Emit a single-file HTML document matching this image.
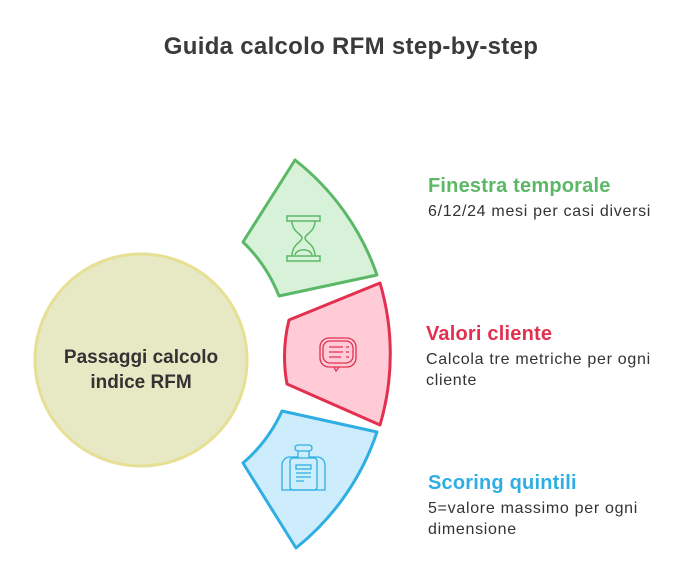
<!DOCTYPE html>
<html><head><meta charset="utf-8"><style>
body{margin:0;background:#fff;width:699px;height:582px;overflow:hidden}
svg text{font-family:"Liberation Sans",sans-serif}
.d{font-size:16px;letter-spacing:0.7px;fill:#333}
.h{font-size:20px;font-weight:bold;letter-spacing:0.2px}
</style></head><body>
<svg width="699" height="582" viewBox="0 0 699 582" xmlns="http://www.w3.org/2000/svg">
<text x="351" y="54" text-anchor="middle" font-size="24" font-weight="bold" fill="#3a3a3a" letter-spacing="0.3">Guida calcolo RFM step-by-step</text>
<circle cx="141" cy="360" r="106" fill="#e6e9c3" stroke="#e6df94" stroke-width="3"/>
<text x="141" y="363" text-anchor="middle" font-size="19" font-weight="bold" fill="#333">Passaggi calcolo</text>
<text x="141" y="388" text-anchor="middle" font-size="19" font-weight="bold" fill="#333">indice RFM</text>
<path d="M295,160 A250,250 0 0 1 377,275 L279,296 A152,152 0 0 0 243,242 Z" fill="#d7f2d9" stroke="#5bb866" stroke-width="3" stroke-linejoin="round"/>
<path d="M380,283 A250,250 0 0 1 380,425 L287,384 A153,153 0 0 1 289,320 Z" fill="#fecbd6" stroke="#e3304f" stroke-width="3" stroke-linejoin="round"/>
<path d="M377,432 A250,250 0 0 1 296,548 L243,463 A150,150 0 0 0 282,411 Z" fill="#cdedfd" stroke="#2eaee3" stroke-width="3" stroke-linejoin="round"/>
<g stroke="#5bb866" stroke-width="1.5" fill="none">
<rect x="287" y="216" width="33" height="5"/><rect x="287" y="256" width="33" height="5"/>
<path d="M292,221 C292,232 302,234 302,238 C302,242 292,244 292,256 M315,221 C315,232 305,234 305,238 C305,242 315,244 315,256"/>
<path d="M295,255 C297,248 310,248 312,255"/>
</g>
<g stroke="#e3304f" stroke-width="1.3" fill="none">
<rect x="320" y="338" width="36" height="29" rx="9"/><rect x="323" y="341" width="30" height="22" rx="7"/>
<path d="M329,347h14M329,352h14M329,357h12M346,347h3M346,352h3M346,357h3"/>
<path d="M334,367l2,4l3,-4"/>
</g>
<g stroke="#2eaee3" stroke-width="1.3" fill="none">
<rect x="295" y="445" width="17" height="6" rx="3"/>
<path d="M298,451v6h-8a8,8 0 0 0 -8,8v25h43v-25a8,8 0 0 0 -8,-8h-8v-6"/>
<rect x="290" y="458" width="27" height="32" rx="3"/>
<rect x="296" y="465" width="15" height="4"/>
<path d="M296,473h15M296,477h15M296,481h8"/>
</g>
<text x="428" y="192" class="h" fill="#5bb866">Finestra temporale</text>
<text x="428" y="216" class="d">6/12/24 mesi per casi diversi</text>
<text x="426" y="340" class="h" fill="#e3304f">Valori cliente</text>
<text x="426" y="364" class="d">Calcola tre metriche per ogni</text>
<text x="426" y="385" class="d">cliente</text>
<text x="428" y="489" class="h" fill="#2eaee3">Scoring quintili</text>
<text x="428" y="513" class="d">5=valore massimo per ogni</text>
<text x="428" y="534" class="d">dimensione</text>
</svg>
</body></html>
